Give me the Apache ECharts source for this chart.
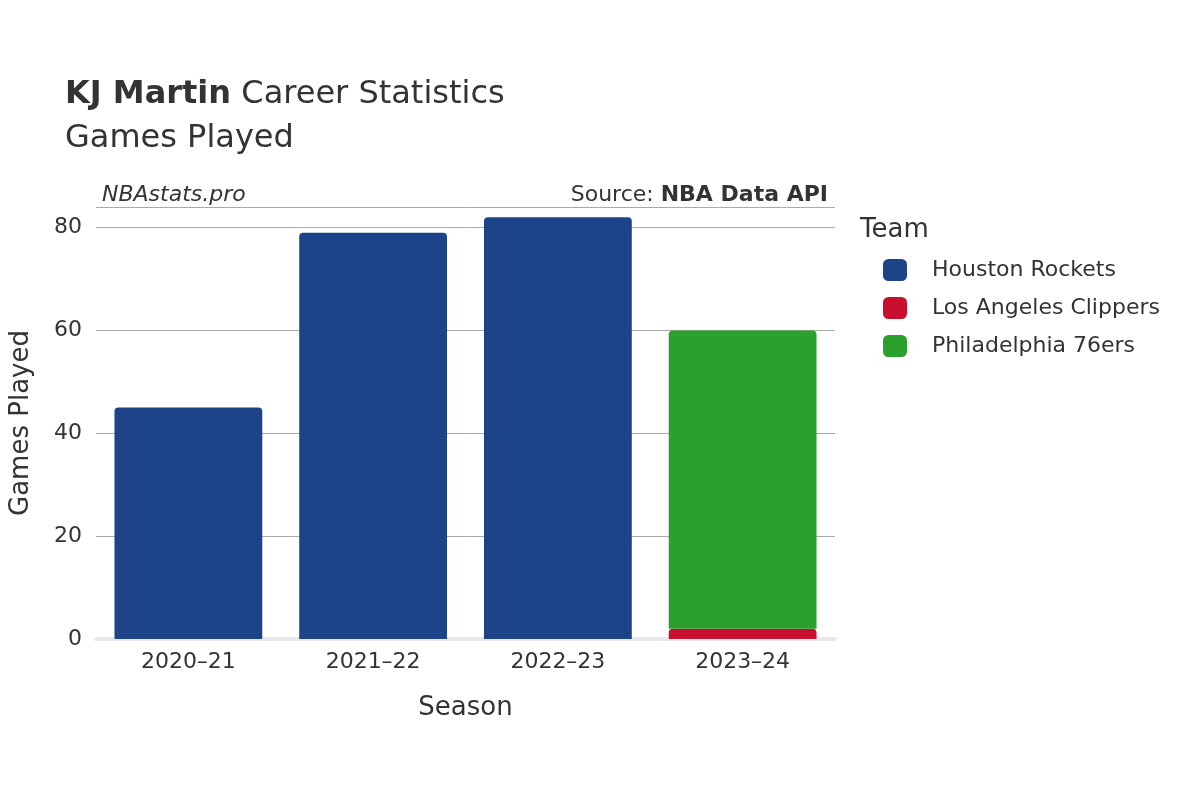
<!DOCTYPE html>
<html>
<head>
<meta charset="utf-8">
<script src="https://cdn.jsdelivr.net/npm/echarts@6/dist/echarts.min.js"></script>
<style>html,body{margin:0;padding:0;background:#fff}#chart{width:1200px;height:800px}</style>
</head>
<body>
<div id="chart"></div>
<script>
const seasons = ['2020\u201321', '2021\u201322', '2022\u201323', '2023\u201324']
const rockets = [45, 79, 82, null]
const clippers = [null, null, null, 2]
const sixers = [null, null, null, 58]
const yTicks = [0, 20, 40, 60, 80]

const font = 'DejaVu Sans'
const chart = echarts.init(document.getElementById('chart'))

const mkSeries = (name, data, color) => ({
    name: name,
    type: 'bar',
    stack: 'gp',
    data: data,
    barCategoryGap: '20%',
    itemStyle: {color: color, borderRadius: [4, 4, 0, 0]}
})

chart.setOption({
    animation: false,
    textStyle: {fontFamily: font},
    title: [
        {
            text: '{b|KJ Martin} Career Statistics\nGames Played',
            left: 60, top: 68,
            textStyle: {
                fontFamily: font, fontSize: 32, color: '#333', fontWeight: 'normal', lineHeight: 44,
                rich: {b: {fontFamily: font, fontSize: 32, fontWeight: 'bold', color: '#333'}}
            }
        },
        {
            text: 'NBAstats.pro', left: 97, top: 179,
            textStyle: {fontFamily: font, fontSize: 22, fontStyle: 'italic', fontWeight: 'normal', color: '#333'}
        },
        {
            text: 'Source: {b|NBA Data API}', right: 367, top: 179,
            textStyle: {
                fontFamily: font, fontSize: 22, fontWeight: 'normal', color: '#333',
                rich: {b: {fontFamily: font, fontSize: 22, fontWeight: 'bold', color: '#333'}}
            }
        },
        {
            text: 'Team', left: 855, top: 212,
            textStyle: {fontFamily: font, fontSize: 26, fontWeight: 'normal', color: '#333'}
        }
    ],
    legend: {
        orient: 'vertical', left: 878, top: 254,
        itemWidth: 24, itemHeight: 22, itemGap: 16,
        icon: 'roundRect',
        textStyle: {fontFamily: font, fontSize: 22, color: '#333', padding: [0, 0, 0, 20]},
        data: ['Houston Rockets', 'Los Angeles Clippers', 'Philadelphia 76ers']
    },
    grid: {left: 93, right: 365, top: 207, bottom: 161},
    xAxis: {
        type: 'category', data: seasons,
        name: 'Season', nameLocation: 'middle', nameGap: 56,
        nameTextStyle: {fontFamily: font, fontSize: 26, color: '#333'},
        axisLine: {lineStyle: {color: '#e8e8ec', width: 4}},
        axisTick: {show: false},
        axisLabel: {fontFamily: font, fontSize: 22, color: '#333', margin: 12}
    },
    yAxis: {
        type: 'value', min: 0, max: 84, interval: 20,
        name: 'Games Played', nameLocation: 'middle', nameGap: 62,
        nameTextStyle: {fontFamily: font, fontSize: 26, color: '#333'},
        axisLabel: {fontFamily: font, fontSize: 22, color: '#333', margin: 14,
            formatter: v => yTicks.includes(v) ? String(v) : ''},
        splitLine: {lineStyle: {color: '#aaa', width: 1}},
        axisLine: {show: false}
    },
    series: [
        mkSeries('Houston Rockets', rockets, '#1d4388'),
        mkSeries('Los Angeles Clippers', clippers, '#c8102e'),
        mkSeries('Philadelphia 76ers', sixers, '#2ca02c')
    ]
})
</script>
</body>
</html>
